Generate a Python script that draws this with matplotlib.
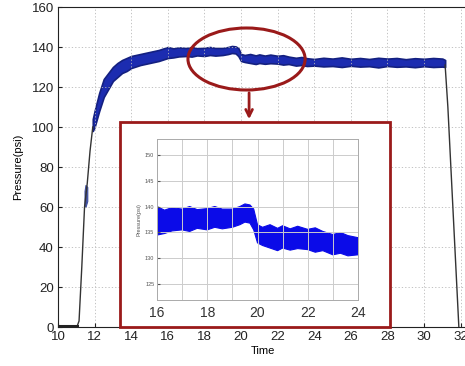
import numpy as np
import matplotlib
matplotlib.use('Agg')
import matplotlib.pyplot as plt
from matplotlib.patches import Ellipse, Rectangle

plt.rcParams['font.family'] = ['Liberation Sans', 'DejaVu Sans']

# データ: 立ち上がり/立ち下がりの細線
ramp_t = [10.0, 11.05, 11.15, 11.3, 11.45, 11.6, 11.75, 11.9]
ramp_p = [0.5, 0.5, 3, 30, 60, 72, 88, 100]
fall_t = [31.15, 31.3, 31.6, 31.9]
fall_p = [131, 110, 55, 0]

# ノイズ帯（下端・上端）
band_t = [11.9, 12.0, 12.25, 12.5, 12.75, 13.0, 13.25, 13.5, 13.75, 14.0,
          14.5, 15.0, 15.5, 16.0, 16.3, 16.6, 17.0, 17.3, 17.6, 18.0,
          18.3, 18.6, 19.0, 19.3, 19.5, 19.7, 19.85, 20.0, 20.2, 20.5,
          20.8, 21.0, 21.3, 21.6, 22.0, 22.3, 22.6, 23.0, 23.3, 23.6,
          24.0, 24.5, 25, 25.5, 26, 26.5, 27, 27.5, 28, 28.5,
          29, 29.5, 30, 30.5, 31, 31.15]
band_lo = [98, 100, 108, 115, 119, 123, 125, 127, 128, 129.5,
           131, 132, 133, 134.5, 134.8, 135.3, 135.5, 135.2, 135.8, 135.5,
           136, 135.7, 136, 136.5, 137, 136.8, 135.5, 133, 132.5, 132,
           131.5, 132, 131.6, 131.9, 131.7, 131.2, 131.5, 130.7, 131, 130.5,
           130.7, 130.3, 130.5, 130.0, 130.6, 130.2, 130.4, 129.8, 130.5, 130.1,
           130.3, 129.9, 130.4, 130.0, 130.2, 130.0]
band_hi = [104, 108, 117, 124, 127, 130, 132, 133.5, 134.5, 135.5,
           136.5, 137.5, 138.5, 140, 139.3, 139.8, 139.5, 140, 139.4, 139.6,
           140, 139.5, 139.5, 140, 140.5, 140.3, 139.5, 136.5, 136, 136.5,
           135.8, 136.3, 135.7, 136.2, 135.6, 135.9, 135.2, 134.6, 135, 134.4,
           134, 134.6, 134.2, 134.8, 134.1, 134.5, 134.0, 134.6, 134.2, 134.5,
           133.9, 134.4, 134.1, 134.5, 134.2, 133.5]
blob_t = [11.45, 11.5, 11.6]
blob_lo = [61, 60, 63]
blob_hi = [68, 71, 70]

main_xticks = [10, 12, 14, 16, 18, 20, 22, 24, 26, 28, 30, 32]
main_yticks = [0, 20, 40, 60, 80, 100, 120, 140, 160]
in_xticks = [16, 18, 20, 22, 24]
in_yticks = [125, 130, 135, 140, 145, 150]

dark_red = '#9a1a1a'
blue_main = '#1c2cb0'
blue_edge = '#142080'
blue_in = '#0b0be8'

fig = plt.figure(figsize=(4.65, 3.66), dpi=100)
ax = fig.add_axes([58/465, 39/366, 410/465, 320/366])

ax.plot(ramp_t, ramp_p, c='#333333', lw=1.0)
ax.plot(ramp_t[:2], ramp_p[:2], c='#222222', lw=2.2)
ax.plot(fall_t, fall_p, c='#333333', lw=1.0)
ax.fill_between(band_t, band_lo, band_hi, fc=blue_main, lw=1.2, ec=blue_edge)
ax.fill_between(blob_t, blob_lo, blob_hi, fc='#4050a0', lw=0.8, ec='#4050a0')

ax.set_xlim(10, 32.4)
ax.set_ylim(0, 160)
ax.set_xticks(main_xticks)
ax.set_yticks(main_yticks)
ax.tick_params(direction='in', length=3, labelsize=9.5, colors='#222222', pad=3)
ax.grid(True, ls=(0, (1.5, 2.5)), c='#b8b8b8', lw=0.6)
ax.set_xlabel('Time', fontsize=8, labelpad=2)
ax.set_ylabel('Pressure(psi)', fontsize=8, labelpad=6)
for s in ax.spines.values():
    s.set_color('#222222')

# 楕円と矢印
ax.add_patch(Ellipse((20.3, 134), 6.4, 31, fill=False, ec=dark_red, lw=2.2, zorder=5))
ax.annotate('', xy=(20.44, 102.5), xytext=(20.44, 118.5),
            arrowprops=dict(arrowstyle='->', color=dark_red, lw=2.0, mutation_scale=12), zorder=5)
ax.add_patch(Rectangle((13.39, 0), 28.14 - 13.39, 102.5, fill=True, fc='white',
                       ec=dark_red, lw=2.0, zorder=4, clip_on=False))

# 拡大図
ax2 = fig.add_axes([157/465, 66/366, 201/465, 161/366])
ax2.fill_between(band_t, band_lo, band_hi, fc=blue_in, lw=0.8, ec=blue_in)
ax2.set_xlim(16, 24)
ax2.set_ylim(122, 153)
ax2.set_xticks(in_xticks)
ax2.set_xticks(np.arange(16, 25, 1), minor=True)
ax2.set_yticks(in_yticks)
ax2.tick_params(axis='x', labelsize=10, colors='#333333', length=0, pad=4)
ax2.tick_params(axis='x', which='minor', length=0)
ax2.tick_params(axis='y', labelsize=4, colors='#555555', length=2, direction='in', pad=2)
ax2.grid(True, which='both', c='#cccccc', lw=0.7)
ax2.set_ylabel('Pressure(psi)', fontsize=4, color='#555555', labelpad=2)
for s in ax2.spines.values():
    s.set_color('#aaaaaa')
    s.set_linewidth(0.7)

fig.savefig('out.png', dpi=100)
